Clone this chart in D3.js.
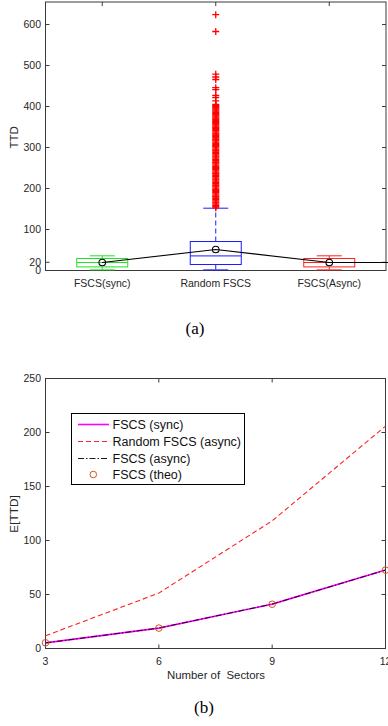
<!DOCTYPE html>
<html>
<head>
<meta charset="utf-8">
<script src="https://cdn.jsdelivr.net/npm/d3@7"></script>
<style>
  body { margin: 0; background: #fff; }
  text { font-family: "Liberation Sans", Arial, Helvetica, sans-serif; fill: #262626; }
  .cap { font-family: "Liberation Serif", "Times New Roman", serif; fill: #000; }
</style>
</head>
<body>
<div id="chart"></div>
<script>
// (a) boxplot of TTD, (b) E[TTD] vs number of sectors
const groups = ["FSCS(sync)", "Random FSCS", "FSCS(Async)"];
const boxColors = ["#22e022", "#1a1aff", "#ff2020"];
const whiskLow = [1.5, 1.5, 1.5];
const q1 = [8.8, 14.6, 8.8];
const medians = [19.5, 35.6, 19.5];
const q3 = [29.3, 70.7, 29.3];
const whiskHigh = [35.8, 152, 35.8];
const means = [19.5, 51.2, 19.5];
// outliers of Random FSCS
const outliers = [624, 583, 479, 472, 466, 446, 441, 427, 422, 414,
  405, 403, 400, 397, 394, 391, 389, 386, 383, 380, 377, 375, 372, 369, 366, 363, 361, 358,
  355, 352, 349, 347, 344, 341, 338, 335, 333, 330, 327, 324, 321, 319, 316, 313, 310, 307,
  305, 302, 299, 296, 293, 291, 288, 285, 282, 279, 277, 274, 271, 268, 265, 263, 260, 257,
  254, 251, 249, 246, 243, 240, 237, 235, 232, 229, 226, 223, 221, 218, 215, 212, 209, 207,
  204, 201, 198, 195, 193, 190, 187, 184, 181, 179, 176, 173, 170, 167, 165, 162, 159, 156, 153];
const yTicksA = [0, 20, 100, 200, 300, 400, 500, 600];

const sectors = [3, 6, 9, 12];
const fscsSync = [5.2, 18.9, 41.1, 72.6];
const randomAsync = [11.8, 51.3, 118.2, 205.9];
const fscsAsync = [5.2, 18.9, 41.1, 72.6];
const fscsTheo = [5.3, 18.9, 41.0, 72.6];
const yTicksB = [0, 50, 100, 150, 200, 250];

const W = 388, H = 726;
const svg = d3.select("#chart").append("svg")
    .attr("width", W).attr("height", H);

const axisColor = "#3a3a3a";
const tickLen = 4;

// ---------- (a) ----------
const xa = d3.scaleLinear().domain([0.5, 3.5]).range([45.5, 386]);
const ya = d3.scaleLinear().domain([0, 655]).range([270.5, 2]);
const ga = svg.append("g");

// frame
ga.append("rect")
    .attr("x", xa.range()[0]).attr("y", ya.range()[1])
    .attr("width", xa.range()[1] - xa.range()[0])
    .attr("height", ya.range()[0] - ya.range()[1])
    .attr("fill", "none").attr("stroke", axisColor).attr("stroke-width", 1);

// y ticks (inside, both sides)
yTicksA.forEach(v => {
    ga.append("line").attr("x1", xa.range()[0]).attr("x2", xa.range()[0] + tickLen)
        .attr("y1", ya(v)).attr("y2", ya(v)).attr("stroke", axisColor);
    ga.append("line").attr("x1", xa.range()[1]).attr("x2", xa.range()[1] - tickLen)
        .attr("y1", ya(v)).attr("y2", ya(v)).attr("stroke", axisColor);
    ga.append("text").text(v)
        .attr("x", 41).attr("y", ya(v) + 3.8)
        .attr("text-anchor", "end").attr("font-size", 10.5);
});
// x ticks at top
groups.forEach((g, i) => {
    ga.append("line").attr("x1", xa(i + 1)).attr("x2", xa(i + 1))
        .attr("y1", ya.range()[1]).attr("y2", ya.range()[1] + tickLen).attr("stroke", axisColor);
    ga.append("text").text(g)
        .attr("x", xa(i + 1)).attr("y", 287)
        .attr("text-anchor", "middle").attr("font-size", 10.5);
});

ga.append("text").text("TTD")
    .attr("transform", `translate(18, ${ya(325)}) rotate(-90)`)
    .attr("text-anchor", "middle").attr("font-size", 11.5);

// boxes
const boxW = 51, capW = 25;
groups.forEach((g, i) => {
    const cx = xa(i + 1), c = boxColors[i];
    const b = ga.append("g").attr("stroke", c).attr("fill", "none").attr("stroke-width", 1);
    b.append("line").attr("x1", cx).attr("x2", cx)
        .attr("y1", ya(q3[i])).attr("y2", ya(whiskHigh[i])).attr("stroke-dasharray", "5,3");
    b.append("line").attr("x1", cx).attr("x2", cx)
        .attr("y1", ya(q1[i])).attr("y2", ya(whiskLow[i])).attr("stroke-dasharray", "5,3");
    b.append("line").attr("x1", cx - capW / 2).attr("x2", cx + capW / 2)
        .attr("y1", ya(whiskHigh[i])).attr("y2", ya(whiskHigh[i]));
    b.append("line").attr("x1", cx - capW / 2).attr("x2", cx + capW / 2)
        .attr("y1", ya(whiskLow[i])).attr("y2", ya(whiskLow[i]));
    b.append("rect").attr("x", cx - boxW / 2).attr("y", ya(q3[i]))
        .attr("width", boxW).attr("height", ya(q1[i]) - ya(q3[i]));
    b.append("line").attr("x1", cx - boxW / 2).attr("x2", cx + boxW / 2)
        .attr("y1", ya(medians[i])).attr("y2", ya(medians[i]));
});

// outliers as + markers
const ox = xa(2);
ga.append("g").selectAll("path").data(outliers).join("path")
    .attr("d", d => `M${ox - 3.5},${ya(d)}H${ox + 3.5}M${ox},${ya(d) - 3.5}V${ya(d) + 3.5}`)
    .attr("stroke", "#ff0000").attr("stroke-width", 1.3).attr("fill", "none");

// mean line (runs on past the last box to the frame)
const meanPts = means.map((m, i) => [xa(i + 1), ya(m)]);
meanPts.push([xa.range()[1] + 2, ya(means[means.length - 1])]);
ga.append("path").attr("d", d3.line()(meanPts))
    .attr("fill", "none").attr("stroke", "#000").attr("stroke-width", 1.1);
ga.append("g").selectAll("circle").data(means).join("circle")
    .attr("cx", (d, i) => xa(i + 1)).attr("cy", d => ya(d)).attr("r", 3.3)
    .attr("fill", "none").attr("stroke", "#000").attr("stroke-width", 1.1);

svg.append("text").attr("class", "cap").text("(a)")
    .attr("x", 195).attr("y", 334).attr("text-anchor", "middle").attr("font-size", 17);

// ---------- (b) ----------
const xb = d3.scaleLinear().domain([3, 12]).range([45.5, 385.5]);
const yb = d3.scaleLinear().domain([0, 250]).range([648.5, 378.5]);
const gb = svg.append("g");

gb.append("rect")
    .attr("x", xb.range()[0]).attr("y", yb.range()[1])
    .attr("width", xb.range()[1] - xb.range()[0])
    .attr("height", yb.range()[0] - yb.range()[1])
    .attr("fill", "none").attr("stroke", axisColor).attr("stroke-width", 1);

yTicksB.forEach(v => {
    gb.append("line").attr("x1", xb.range()[0]).attr("x2", xb.range()[0] + tickLen)
        .attr("y1", yb(v)).attr("y2", yb(v)).attr("stroke", axisColor);
    gb.append("line").attr("x1", xb.range()[1]).attr("x2", xb.range()[1] - tickLen)
        .attr("y1", yb(v)).attr("y2", yb(v)).attr("stroke", axisColor);
    gb.append("text").text(v)
        .attr("x", 41).attr("y", yb(v) + 3.8)
        .attr("text-anchor", "end").attr("font-size", 10.5);
});
sectors.forEach(v => {
    gb.append("line").attr("x1", xb(v)).attr("x2", xb(v))
        .attr("y1", yb.range()[0]).attr("y2", yb.range()[0] - tickLen).attr("stroke", axisColor);
    gb.append("line").attr("x1", xb(v)).attr("x2", xb(v))
        .attr("y1", yb.range()[1]).attr("y2", yb.range()[1] + tickLen).attr("stroke", axisColor);
    gb.append("text").text(v)
        .attr("x", xb(v)).attr("y", 664.5)
        .attr("text-anchor", "middle").attr("font-size", 10.5);
});

gb.append("text").text("Number of  Sectors")
    .style("white-space", "pre")
    .attr("x", 216).attr("y", 679)
    .attr("text-anchor", "middle").attr("font-size", 11.4);
gb.append("text").text("E[TTD]")
    .attr("transform", `translate(18, 514) rotate(-90)`)
    .attr("text-anchor", "middle").attr("font-size", 11.8);

const line = d3.line().x((d, i) => xb(sectors[i])).y(d => yb(d));
gb.append("path").attr("d", line(randomAsync))
    .attr("fill", "none").attr("stroke", "#ff2020").attr("stroke-width", 1.1)
    .attr("stroke-dasharray", "5,3");
gb.append("path").attr("d", line(fscsSync))
    .attr("fill", "none").attr("stroke", "#ff00ff").attr("stroke-width", 1.6);
gb.append("path").attr("d", line(fscsAsync))
    .attr("fill", "none").attr("stroke", "#000").attr("stroke-width", 0.9)
    .attr("stroke-dasharray", "6,2,1.5,2");
gb.append("g").selectAll("circle").data(fscsTheo).join("circle")
    .attr("cx", (d, i) => xb(sectors[i])).attr("cy", d => yb(d)).attr("r", 3.3)
    .attr("fill", "none").attr("stroke", "#d95319").attr("stroke-width", 1);

// legend
const leg = gb.append("g");
leg.append("rect").attr("x", 71.5).attr("y", 413.5).attr("width", 173).attr("height", 71)
    .attr("fill", "#fff").attr("stroke", "#000").attr("stroke-width", 1);
const legItems = [
    { label: "FSCS (sync)", color: "#ff00ff", dash: null, w: 1.6, y: 424.5 },
    { label: "Random FSCS (async)", color: "#ff2020", dash: "5,3", w: 1.1, y: 441.5 },
    { label: "FSCS (async)", color: "#000", dash: "6,2,1.5,2", w: 0.9, y: 458.5 },
    { label: "FSCS (theo)", color: "#d95319", dash: "marker", w: 1, y: 474.5 }
];
legItems.forEach(it => {
    if (it.dash === "marker") {
        leg.append("circle").attr("cx", 93.3).attr("cy", it.y).attr("r", 3.3)
            .attr("fill", "none").attr("stroke", it.color).attr("stroke-width", it.w);
    } else {
        leg.append("line").attr("x1", 78).attr("x2", 109).attr("y1", it.y).attr("y2", it.y)
            .attr("stroke", it.color).attr("stroke-width", it.w)
            .attr("stroke-dasharray", it.dash);
    }
    leg.append("text").text(it.label)
        .attr("x", 112.5).attr("y", it.y + 4.5).attr("font-size", 12.5).style("fill", "#111");
});

svg.append("text").attr("class", "cap").text("(b)")
    .attr("x", 204).attr("y", 713).attr("text-anchor", "middle").attr("font-size", 17);
</script>
</body>
</html>
